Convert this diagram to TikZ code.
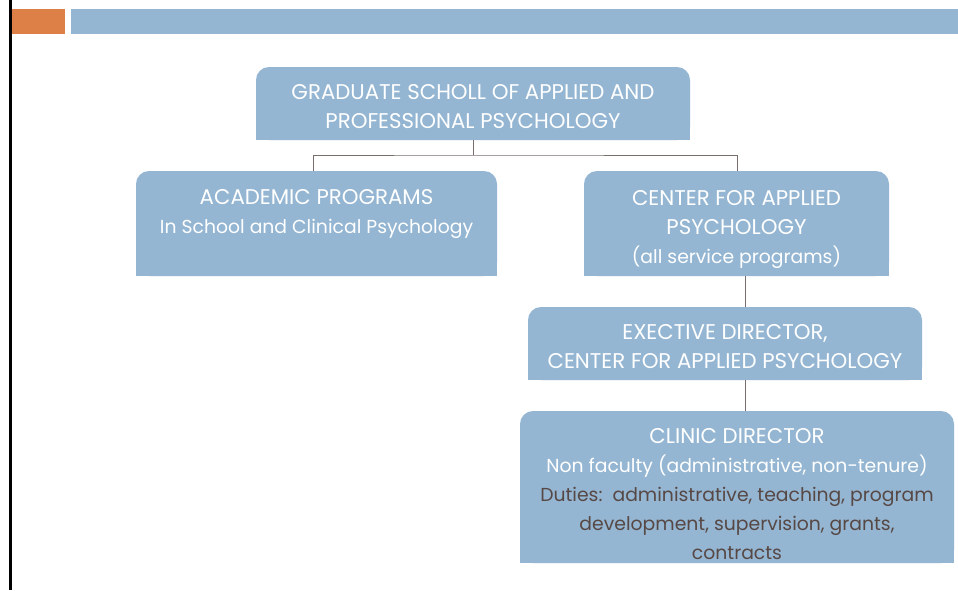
\documentclass[tikz,border=0pt]{standalone}
\usepackage{fontspec}
\setmainfont{Poppins}
\definecolor{boxblue}{HTML}{94B6D2}
\definecolor{accorange}{HTML}{DD8047}
\definecolor{darktext}{HTML}{574845}
\definecolor{linkcol}{HTML}{7A6E6C}
\newcommand{\capsf}{\fontsize{21.3}{29}\selectfont}
\newcommand{\mixf}{\fontsize{18.8}{29}\selectfont}
\tikzset{
  boxshape/.style={inner sep=0pt, outer sep=0pt, anchor=north west},
  boxtext/.style={anchor=north, inner sep=0pt, align=center, text=white,
    font=\fontsize{18.8}{29}\selectfont},
  link/.style={draw=linkcol, line width=1pt}
}
\newcommand{\topround}[1]{%
  \fill[boxblue, rounded corners=13pt] (#1.south west) rectangle (#1.north east);
  \fill[boxblue] (#1.south west) rectangle ([yshift=20pt]#1.south east);
}
\begin{document}
\begin{tikzpicture}[x=1pt,y=-1pt]
\useasboundingbox (0,0) rectangle (958,590);
\fill[white] (0,0) rectangle (958,590);
% header bars
\fill[black] (9.3,0) rectangle (11.7,590);
\fill[accorange] (11.7,9) rectangle (65,34);
\fill[boxblue] (71,9) rectangle (958,34);
% boxes
\node[boxshape, minimum width=434pt, minimum height=73pt] (gs) at (256,67) {};
\node[boxshape, minimum width=361pt, minimum height=105pt] (ac) at (136,171) {};
\node[boxshape, minimum width=305pt, minimum height=105pt] (cap) at (584,171) {};
\node[boxshape, minimum width=394pt, minimum height=73pt] (ed) at (528,307) {};
\node[boxshape, minimum width=434pt, minimum height=152pt] (cd) at (520,411) {};
\topround{gs}
\topround{ac}
\topround{cap}
\topround{ed}
\topround{cd}
% texts
\node[boxtext] (gst) at ([yshift=-17pt]gs.north) {\capsf GRADUATE SCHOLL OF APPLIED AND\\\capsf PROFESSIONAL PSYCHOLOGY};
\node[boxtext] (act) at ([yshift=-18pt]ac.north) {\capsf ACADEMIC PROGRAMS\\\mixf In School and Clinical Psychology};
\node[boxtext] (capt) at ([yshift=-19pt]cap.north) {\capsf CENTER FOR APPLIED\\\capsf PSYCHOLOGY\\\mixf (all service programs)};
\node[boxtext] (edt) at ([yshift=-17.5pt]ed.north) {\capsf EXECTIVE DIRECTOR,\\\capsf CENTER FOR APPLIED PSYCHOLOGY};
\node[boxtext] (cdt) at ([yshift=-17pt]cd.north) {\capsf CLINIC DIRECTOR\\\mixf Non faculty (administrative, non-tenure)\\
  \mixf\textcolor{darktext}{Duties:\ \ administrative, teaching, program}\\
  \mixf\textcolor{darktext}{development, supervision, grants,}\\
  \mixf\textcolor{darktext}{contracts}};
% connectors
\coordinate (jn) at (473,155);
\draw[link] (gs.south -| jn) -- (jn);
\draw[link] (ac.north -| 313,0) |- (jn) -| (cap.north -| 737,0);
\draw[link] (cap.south -| 745,0) -- (ed.north -| 745,0);
\draw[link] (ed.south -| 745,0) -- (cd.north -| 745,0);
\end{tikzpicture}
\end{document}
